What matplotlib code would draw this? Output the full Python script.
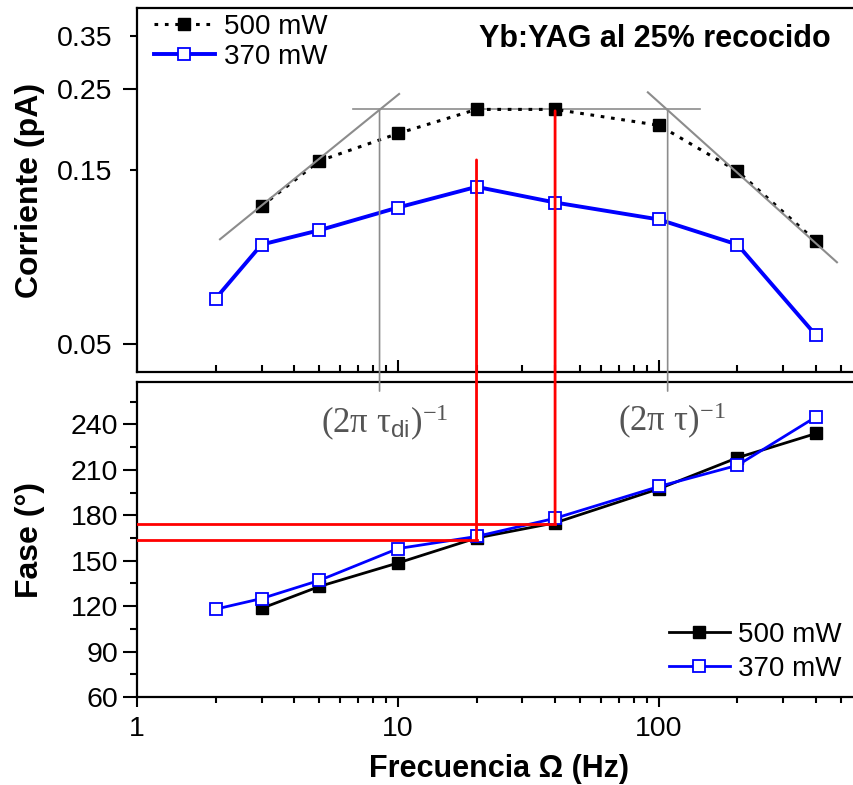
import matplotlib
matplotlib.use('Agg')
import matplotlib.pyplot as plt
import matplotlib.ticker as ticker
from matplotlib.patches import ConnectionPatch

plt.rcParams['font.family'] = ['Liberation Sans', 'DejaVu Sans']
plt.rcParams['mathtext.fontset'] = 'custom'
plt.rcParams['mathtext.rm'] = 'Liberation Serif'
plt.rcParams['mathtext.it'] = 'Liberation Serif'
plt.rcParams['mathtext.sf'] = 'Liberation Sans'

# datos
freq_500 = [3, 5, 10, 20, 40, 100, 200, 400]
freq_370 = [2, 3, 5, 10, 20, 40, 100, 200, 400]
corr_500 = [0.1195, 0.159, 0.189, 0.220, 0.220, 0.199, 0.149, 0.0958]
corr_370 = [0.0667, 0.0938, 0.1027, 0.1185, 0.135, 0.1223, 0.1099, 0.0938, 0.0529]
fase_500 = [118.5, 133, 148.5, 165, 175, 197.5, 218, 234]
fase_370 = [118, 125, 137, 158, 166, 178, 199, 213, 245]

# rectas de ajuste y cortes
asym_low_x = [2.08, 10.1]
asym_low_y = [0.097, 0.2425]
asym_high_x = [90.7, 481]
asym_high_y = [0.245, 0.0839]
plateau_x = [6.7, 144]
plateau_y = 0.220
corte_di = 8.5
corte = 108
f_di, fase_di = 20, 164
f_t, fase_t = 40, 174

W, H = 854, 785
fig = plt.figure(figsize=(W / 100, H / 100), dpi=100)
ax1 = fig.add_axes([137 / W, (H - 372) / H, (862 - 137) / W, (372 - 8) / H])
ax2 = fig.add_axes([137 / W, (H - 697) / H, (862 - 137) / W, (697 - 382) / H])

gray = '#8c8c8c'

# ---- panel superior: corriente ----
ax1.plot(asym_low_x, asym_low_y, color=gray, lw=1.5, zorder=3)
ax1.plot(asym_high_x, asym_high_y, color=gray, lw=1.5, zorder=3)
ax1.plot(plateau_x, [plateau_y, plateau_y], color=gray, lw=1.2, zorder=1)
l1, = ax1.plot(freq_500, corr_500, color='black', lw=2.2, ls=(0, (1.2, 2.2)),
               marker='s', ms=9, mfc='black', mec='black', label='500 mW', zorder=2)
l2, = ax1.plot(freq_370, corr_370, color='#0000ff', lw=2.8, marker='s', ms=9,
               mfc='white', mec='#0000ff', mew=1.3, label='370 mW', zorder=2)

ax1.set_xscale('log')
ax1.set_yscale('log')
ax1.set_xlim(1, 600)
ax1.set_ylim(0.042, 0.417)
ax1.yaxis.set_major_locator(ticker.FixedLocator([0.05, 0.25]))
ax1.yaxis.set_minor_locator(ticker.FixedLocator([0.15, 0.35]))
ax1.yaxis.set_major_formatter(ticker.FormatStrFormatter('%.2f'))
ax1.yaxis.set_minor_formatter(ticker.FormatStrFormatter('%.2f'))
ax1.tick_params(axis='y', which='major', direction='out', length=10, width=1.5,
                labelsize=20.5, pad=8)
ax1.tick_params(axis='y', which='minor', direction='out', length=5, width=1.5,
                labelsize=20.5, pad=13)
ax1.tick_params(axis='x', which='major', direction='in', length=9, width=1.5, labelbottom=False)
ax1.tick_params(axis='x', which='minor', direction='in', length=5, width=1.5)
ax1.xaxis.set_minor_locator(ticker.LogLocator(subs=range(2, 10)))
ax1.xaxis.set_minor_formatter(ticker.NullFormatter())
for s in ax1.spines.values():
    s.set_linewidth(1.6)
ax1.set_ylabel('Corriente (pA)', fontsize=23, fontweight='bold')
ax1.yaxis.set_label_coords(-0.127, 0.5)
ax1.text(0.957, 0.955, 'Yb:YAG al 25% recocido', transform=ax1.transAxes,
         ha='right', va='top', fontsize=22, fontweight='bold')
ax1.legend(handles=[l1, l2], loc='upper left', bbox_to_anchor=(0.0, 1.03),
           frameon=False, fontsize=20, handlelength=2.2, handletextpad=0.35,
           labelspacing=0.15, borderaxespad=0.2)

# ---- panel inferior: fase ----
b1, = ax2.plot(freq_500, fase_500, color='black', lw=2, marker='s', ms=9,
               mfc='black', mec='black', label='500 mW')
b2, = ax2.plot(freq_370, fase_370, color='#0000ff', lw=2, marker='s', ms=9,
               mfc='white', mec='#0000ff', mew=1.3, label='370 mW')
ax2.plot([1, f_di], [fase_di, fase_di], color='red', lw=2, zorder=4)
ax2.plot([1, f_t], [fase_t, fase_t], color='red', lw=2, zorder=4)

ax2.set_xscale('log')
ax2.set_xlim(1, 600)
ax2.set_ylim(60, 268)
ax2.yaxis.set_major_locator(ticker.MultipleLocator(30))
ax2.yaxis.set_minor_locator(ticker.MultipleLocator(15))
ax2.xaxis.set_major_locator(ticker.FixedLocator([1, 10, 100]))
ax2.xaxis.set_major_formatter(ticker.FixedFormatter(['1', '10', '100']))
ax2.xaxis.set_minor_locator(ticker.LogLocator(subs=range(2, 10)))
ax2.xaxis.set_minor_formatter(ticker.NullFormatter())
ax2.tick_params(axis='both', which='major', direction='out', width=1.5, labelsize=20.5)
ax2.tick_params(axis='y', which='major', length=10)
ax2.tick_params(axis='y', which='minor', length=5, width=1.5)
ax2.tick_params(axis='x', which='major', length=7, pad=7)
ax2.tick_params(axis='x', which='minor', length=4.5, width=1.5)
for s in ax2.spines.values():
    s.set_linewidth(1.6)
ax2.set_ylabel('Fase (°)', fontsize=23, fontweight='bold')
ax2.yaxis.set_label_coords(-0.127, 0.5)
ax2.set_xlabel('Frecuencia Ω (Hz)', fontsize=22, fontweight='bold', labelpad=8)
ax2.legend(handles=[b1, b2], loc='lower right', bbox_to_anchor=(0.995, -0.005),
           frameon=False, fontsize=20, handlelength=2.2, handletextpad=0.3,
           labelspacing=0.3, borderaxespad=0.2)

ax2.text(8.9, 241, r'$(2\pi\ \tau_{\mathsf{di}})^{-1}$', color='#555555', fontsize=25,
         ha='center', va='center')
ax2.text(112, 242, r'$(2\pi\ \tau)^{-1}$', color='#555555', fontsize=25,
         ha='center', va='center')

# lineas que cruzan ambos paneles
for fx, y_top, y_bot, col, lw in [(corte_di, plateau_y, 262, gray, 1.2),
                                  (corte, plateau_y, 262, gray, 1.2),
                                  (f_di, 0.16, fase_di, 'red', 2),
                                  (f_t, 0.218, fase_t, 'red', 2)]:
    con = ConnectionPatch(xyA=(fx, y_top), coordsA=ax1.transData,
                          xyB=(fx, y_bot), coordsB=ax2.transData,
                          color=col, lw=lw)
    fig.add_artist(con)

fig.savefig('out.png', dpi=100)
